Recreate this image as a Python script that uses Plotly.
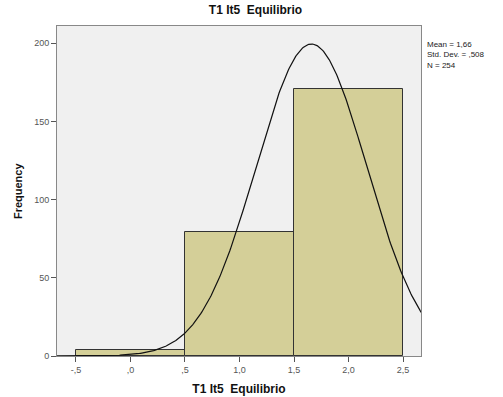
import numpy as np
import plotly.graph_objects as go

# Histogram of T1 It5 Equilibrio
bin_centers = [0.0, 1.0, 2.0]
frequencies = [4, 79, 171]
bin_width = 1.0

mean_val = 1.66
std_val = 0.508
n_val = 254

x_tickvals = [-0.5, 0.0, 0.5, 1.0, 1.5, 2.0, 2.5]
x_ticktext = ["-,5", ",0", ",5", "1,0", "1,5", "2,0", "2,5"]
y_tickvals = [0, 50, 100, 150, 200]
y_ticktext = ["0", "50", "100", "150", "200"]

# Fitted normal curve scaled to counts
xs = np.linspace(-0.7, 2.7, 400)
ys = n_val * bin_width / (std_val * np.sqrt(2 * np.pi)) * np.exp(-0.5 * ((xs - mean_val) / std_val) ** 2)

font = "Liberation Sans, Arial, sans-serif"

fig = go.Figure()
fig.add_trace(go.Bar(
    x=bin_centers, y=frequencies, width=bin_width,
    marker=dict(color="#D4CF98", line=dict(color="#333333", width=1)),
    hoverinfo="skip",
))
fig.add_trace(go.Scatter(
    x=xs, y=ys, mode="lines",
    line=dict(color="#111111", width=1.2),
    hoverinfo="skip",
))

fig.update_layout(
    width=503, height=397,
    margin=dict(l=57, r=82, t=26, b=41),
    paper_bgcolor="white",
    plot_bgcolor="#F0F0F0",
    showlegend=False,
    bargap=0,
    title=dict(text="<b>T1 It5  Equilibrio</b>", x=0.508, xanchor="center", y=0.985, yanchor="top",
               font=dict(family=font, size=12, color="#111111")),
    font=dict(family=font),
)
fig.update_xaxes(
    range=[-0.674, 2.665],
    tickvals=x_tickvals, ticktext=x_ticktext,
    ticks="outside", ticklen=5, tickcolor="#555555",
    tickfont=dict(size=9, color="#555555", family=font),
    showgrid=False, zeroline=False, automargin=False,
    showline=True, linecolor="#888888", linewidth=1, mirror=True,
    title=dict(text="<b>T1 It5  Equilibrio</b>", font=dict(size=12, color="#111111", family=font), standoff=10),
)
fig.update_yaxes(
    range=[0, 211],
    tickvals=y_tickvals, ticktext=y_ticktext,
    ticks="outside", ticklen=5, tickcolor="#555555",
    tickfont=dict(size=9, color="#555555", family=font),
    showgrid=False, zeroline=False, automargin=False,
    showline=True, linecolor="#888888", linewidth=1, mirror=True,
)
# Vertical axis label placed explicitly
fig.add_annotation(
    xref="paper", yref="paper", x=-0.107, y=0.5, xanchor="center", yanchor="middle",
    text="<b>Frequency</b>", textangle=-90, showarrow=False,
    font=dict(size=11, color="#111111", family=font),
)
fig.add_annotation(
    xref="paper", yref="paper", x=1.01, y=0.965, xanchor="left", yanchor="top",
    text=f"Mean = {mean_val:.2f}".replace(".", ",") + "<br>"
         + f"Std. Dev. = {std_val:.3f}".replace("0.", ",").replace("Dev,", "Dev.") + "<br>"
         + f"N = {n_val}",
    showarrow=False, align="left",
    font=dict(size=8, color="#222222", family=font),
)

fig.write_html("out.html")
